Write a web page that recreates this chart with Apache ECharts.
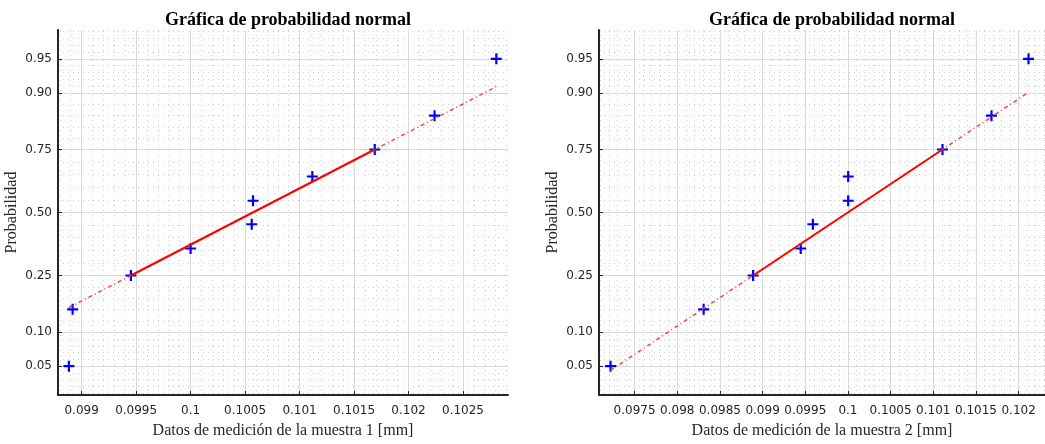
<!DOCTYPE html>
<html>
<head>
<meta charset="utf-8">
<title>Gráfica de probabilidad normal</title>
<script src="https://cdn.jsdelivr.net/npm/echarts@6/dist/echarts.min.js"></script>
<style>
html, body { margin: 0; padding: 0; background: #fff; }
#chart { width: 1045px; height: 444px; }
</style>
</head>
<body>
<div id="chart"></div>
<script>
// probabilidades (i-0.5)/n de los 10 datos ordenados
var probs = [0.05, 0.15, 0.25, 0.35, 0.45, 0.55, 0.65, 0.75, 0.85, 0.95];
// datos ordenados de cada muestra [mm]
var muestra1 = [0.098883, 0.098917, 0.099452, 0.1000, 0.100561, 0.100573, 0.101117, 0.10169, 0.102239, 0.102806];
var muestra2 = [0.097218, 0.098309, 0.098889, 0.099447, 0.099589, 0.100003, 0.100003, 0.101108, 0.101682, 0.102116];
// marcas de los ejes
var probTicks = [0.05, 0.10, 0.25, 0.50, 0.75, 0.90, 0.95];
var probLabels = ['0.05', '0.10', '0.25', '0.50', '0.75', '0.90', '0.95'];
var xTicks1 = [0.099, 0.0995, 0.1, 0.1005, 0.101, 0.1015, 0.102, 0.1025];
var xTicks2 = [0.0975, 0.098, 0.0985, 0.099, 0.0995, 0.1, 0.1005, 0.101, 0.1015, 0.102];
var xRange1 = [0.098783, 0.102913];
var xRange2 = [0.097083, 0.102309];
var pRange = [0.02535, 0.97465];

// inversa de la normal estandar (aprox. de Acklam), escala del eje de probabilidad
function norminv(p) {
    var a = [-3.969683028665376e+01, 2.209460984245205e+02, -2.759285104469687e+02, 1.383577518672690e+02, -3.066479806614716e+01, 2.506628277459239e+00];
    var b = [-5.447609879822406e+01, 1.615858368580409e+02, -1.556989798598866e+02, 6.680131188771972e+01, -1.328068155288572e+01];
    var c = [-7.784894002430293e-03, -3.223964580411365e-01, -2.400758277161838e+00, -2.549732539343734e+00, 4.374664141464968e+00, 2.938163982698783e+00];
    var d = [7.784695709041462e-03, 3.224671290700398e-01, 2.445134137142996e+00, 3.754408661907416e+00];
    var pl = 0.02425, q, r;
    if (p < pl) {
        q = Math.sqrt(-2 * Math.log(p));
        return (((((c[0]*q+c[1])*q+c[2])*q+c[3])*q+c[4])*q+c[5]) / ((((d[0]*q+d[1])*q+d[2])*q+d[3])*q+1);
    }
    if (p > 1 - pl) {
        q = Math.sqrt(-2 * Math.log(1 - p));
        return -(((((c[0]*q+c[1])*q+c[2])*q+c[3])*q+c[4])*q+c[5]) / ((((d[0]*q+d[1])*q+d[2])*q+d[3])*q+1);
    }
    q = p - 0.5; r = q * q;
    return (((((a[0]*r+a[1])*r+a[2])*r+a[3])*r+a[4])*r+a[5])*q / (((((b[0]*r+b[1])*r+b[2])*r+b[3])*r+b[4])*r+1);
}

var zTicks = probTicks.map(norminv);
var zMin = norminv(pRange[0]), zMax = norminv(pRange[1]);

// rejilla menor: 4 lineas entre marcas principales
var zMinor = [];
for (var i = 0; i < zTicks.length - 1; i++) {
    var st = (zTicks[i + 1] - zTicks[i]) / 5;
    for (var k = 1; k < 5; k++) zMinor.push(zTicks[i] + k * st);
}
var s0 = (zTicks[1] - zTicks[0]) / 5;
for (var z = zTicks[0] - s0; z > zMin; z -= s0) zMinor.push(z);
var s1 = (zTicks[zTicks.length - 1] - zTicks[zTicks.length - 2]) / 5;
for (var z2 = zTicks[zTicks.length - 1] + s1; z2 < zMax; z2 += s1) zMinor.push(z2);

function xMinorOf(range) {
    var out = [];
    for (var k = Math.ceil(range[0] * 1e4); k <= Math.floor(range[1] * 1e4); k++) {
        if (k % 5 !== 0) out.push(k / 1e4);
    }
    return out;
}

var axisColor = '#262626';
var tickFont = { fontFamily: 'DejaVu Sans', fontSize: 12, color: axisColor };
var nameFont = { fontFamily: 'Liberation Serif', fontSize: 16, color: axisColor };
var titleFont = { fontFamily: 'Liberation Serif', fontWeight: 'bold', fontSize: 18, color: '#000' };
var plusPath = 'path://M4,0H6V4H10V6H6V10H4V6H0V4H4Z';

var grids = [
    { left: 58, top: 30, width: 450, height: 366 },
    { left: 599, top: 30, width: 451, height: 366 }
];

var xAxes = [], yAxes = [], series = [];

function panel(gi, datos, xTicks, xRange, nombre) {
    var xi = xAxes.length, yi = yAxes.length;
    xAxes.push({
        type: 'value', gridIndex: gi, min: xRange[0], max: xRange[1], position: 'bottom',
        name: nombre, nameLocation: 'middle', nameGap: 28, nameTextStyle: nameFont,
        axisLine: { onZero: false, lineStyle: { color: axisColor, width: 2 } },
        axisTick: { inside: true, length: 4, customValues: xTicks, lineStyle: { color: axisColor } },
        axisLabel: Object.assign({ margin: 10, customValues: xTicks,
            formatter: function (v) { return String(parseFloat(v.toFixed(6))); } }, tickFont),
        splitLine: { show: true, lineStyle: { color: '#dadada', width: 1 } }
    });
    xAxes.push({
        type: 'value', gridIndex: gi, min: xRange[0], max: xRange[1], position: 'top',
        axisLine: { show: false, onZero: false }, axisLabel: { show: false },
        axisTick: { show: false, customValues: xMinorOf(xRange) },
        splitLine: { show: true, lineStyle: { color: '#cdcdcd', width: 1, type: [1, 4] } }
    });
    yAxes.push({
        type: 'value', gridIndex: gi, min: zMin, max: zMax, position: 'left',
        name: 'Probabilidad', nameLocation: 'middle', nameGap: 38, nameTextStyle: nameFont,
        axisLine: { onZero: false, lineStyle: { color: axisColor, width: 2 } },
        axisTick: { inside: true, length: 4, customValues: zTicks, lineStyle: { color: axisColor } },
        axisLabel: Object.assign({ margin: 6, customValues: zTicks,
            formatter: function (v) {
                for (var j = 0; j < zTicks.length; j++) {
                    if (Math.abs(zTicks[j] - v) < 1e-6) return probLabels[j];
                }
                return '';
            } }, tickFont),
        splitLine: { show: true, lineStyle: { color: '#dadada', width: 1 } }
    });
    yAxes.push({
        type: 'value', gridIndex: gi, min: zMin, max: zMax, position: 'right',
        axisLine: { show: false, onZero: false }, axisLabel: { show: false },
        axisTick: { show: false, customValues: zMinor },
        splitLine: { show: true, lineStyle: { color: '#cdcdcd', width: 1, type: [1, 4] } }
    });

    // linea de referencia por el 1er y 3er cuartil
    var q1 = datos[2], q3 = datos[7];
    var z1 = norminv(probs[2]), z3 = norminv(probs[7]);
    var zl = function (x) { return z1 + (x - q1) / (q3 - q1) * (z3 - z1); };
    var lo = datos[0], hi = datos[datos.length - 1];

    series.push({
        type: 'line', xAxisIndex: xi, yAxisIndex: yi, symbol: 'none', silent: true,
        data: [[lo, zl(lo)], [hi, zl(hi)]],
        lineStyle: { color: '#ff4040', width: 1.5, type: [4, 3, 1, 3] }
    });
    series.push({
        type: 'line', xAxisIndex: xi, yAxisIndex: yi, symbol: 'none', silent: true,
        data: [[q1, z1], [q3, z3]],
        lineStyle: { color: '#ff0000', width: 2 }
    });
    series.push({
        type: 'scatter', xAxisIndex: xi, yAxisIndex: yi, symbol: plusPath, symbolSize: 11,
        itemStyle: { color: '#0000ff', opacity: 1 },
        data: datos.map(function (v, j) { return [v, norminv(probs[j])]; })
    });
}

panel(0, muestra1, xTicks1, xRange1, 'Datos de medición de la muestra 1 [mm]');
panel(1, muestra2, xTicks2, xRange2, 'Datos de medición de la muestra 2 [mm]');

var chart = echarts.init(document.getElementById('chart'));
chart.setOption({
    animation: false,
    backgroundColor: '#ffffff',
    title: [
        { text: 'Gráfica de probabilidad normal', left: 283, top: 6, textAlign: 'center', textStyle: titleFont },
        { text: 'Gráfica de probabilidad normal', left: 827, top: 6, textAlign: 'center', textStyle: titleFont }
    ],
    grid: grids,
    xAxis: xAxes,
    yAxis: yAxes,
    series: series
});
</script>
</body>
</html>
